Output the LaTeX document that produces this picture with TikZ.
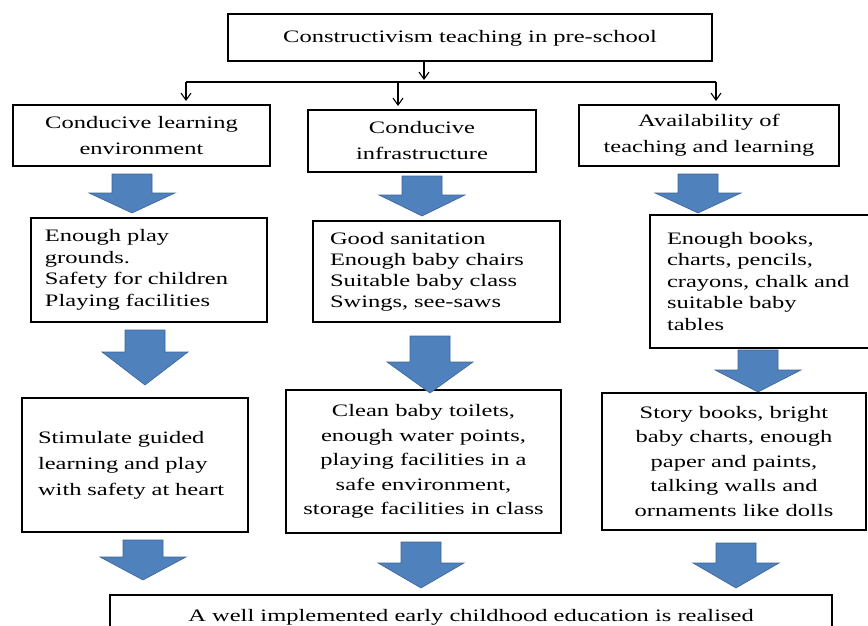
\documentclass[tikz,border=0pt]{standalone}
\usepackage{fontspec}
\setmainfont{Liberation Serif}[FakeStretch=1.4]
\usetikzlibrary{arrows.meta,calc}
\definecolor{arrfill}{RGB}{79,129,189}
\definecolor{arrline}{RGB}{60,100,150}
\newcommand\fatarrow[4]{%
  \filldraw[blockarrow] ({#1-20},#2) -- ({#1+20},#2) -- ({#1+20},#3) -- ({#1+43},#3)
    -- (#1,#4) -- ({#1-43},#3) -- ({#1-20},#3) -- cycle;}
\begin{document}
\begin{tikzpicture}[x=1pt,y=-1pt,
  box/.style={draw=black, line width=2pt, inner sep=0pt, align=center,
    font=\fontsize{17.5}{26}\selectfont},
  listbox/.style={box, align=left, font=\fontsize{17.5}{21.5}\selectfont},
  thinarr/.style={line width=1.1pt, -{Straight Barb[length=7pt,width=10pt]}},
  thinline/.style={line width=1.1pt},
  blockarrow/.style={fill=arrfill, draw=arrline, line width=0.6pt, line join=miter}]
\useasboundingbox (0,0) rectangle (868,626);

% top
\node[box, minimum width=484pt, minimum height=47pt] (top) at (470,38)
  {Constructivism teaching in pre-school};

% row 1
\node[box, minimum width=257pt, minimum height=61pt] (L1) at (141.5,135.5)
  {Conducive learning\\environment};
\node[box, minimum width=228pt, minimum height=62pt] (M1) at (422,141)
  {Conducive\\infrastructure};
\node[box, minimum width=260pt, minimum height=61pt] (R1) at (709,135.5)
  {Availability of\\teaching and learning};

% thin connectors
\coordinate (hub) at (424,82);
\coordinate (hl) at (186,82);
\coordinate (hm) at (398,82);
\coordinate (hr) at (716,82);
\draw[thinarr] (top.south -| hub) -- ($(hub)+(0,-2)$);
\draw[thinline] (hl) -- (hr);
\draw[thinarr, shorten >=3pt] (hl) -- (hl |- L1.north);
\draw[thinarr, shorten >=3pt] (hm) -- (hm |- M1.north);
\draw[thinarr, shorten >=3pt] (hr) -- (hr |- R1.north);

% row 2
\node[listbox, text width=208pt, inner xsep=14pt, minimum height=104pt] (L2) at (149,270)
  {Enough play\\grounds.\\Safety for children\\Playing facilities};
\node[listbox, text width=213pt, inner xsep=17pt, minimum height=101pt,
  font=\fontsize{17.5}{21}\selectfont] (M2) at (436.5,271.5)
  {Good sanitation\\Enough baby chairs\\Suitable baby class\\Swings, see-saws};
\node[listbox, text width=200pt, inner xsep=17pt, minimum height=133pt,
  anchor=west] (R2) at (649,281.5)
  {Enough books,\\charts, pencils,\\crayons, chalk and\\suitable baby\\tables};

% row 3
\node[box, align=left, text width=194pt, inner xsep=16pt, minimum height=134pt,
  font=\fontsize{17.5}{26}\selectfont] (L3) at (135,465)
  {Stimulate guided\\learning and play\\with safety at heart};
\node[box, minimum width=275pt, minimum height=143pt,
  font=\fontsize{17.5}{24.5}\selectfont] (M3) at (423.5,461.5)
  {Clean baby toilets,\\enough water points,\\playing facilities in a\\safe environment,\\storage facilities in class};
\node[box, minimum width=264pt, minimum height=137pt,
  font=\fontsize{17.5}{24.5}\selectfont] (R3) at (734,461.5)
  {Story books, bright\\baby charts, enough\\paper and paints,\\talking walls and\\ornaments like dolls};

% bottom
\node[box, minimum width=722pt, minimum height=45pt] (bot) at (471,617.5)
  {A well implemented early childhood education is realised};

% block arrows row 1 -> row 2
\fatarrow{132}{174}{193}{213}
\fatarrow{422}{176}{195}{216}
\fatarrow{698}{174}{193}{213}
% row 2 -> row 3
\fatarrow{145}{330}{352}{385}
\fatarrow{430}{336}{362}{393}
\fatarrow{758}{350}{370}{392}
% row 3 -> bottom
\fatarrow{143}{540}{557}{580}
\fatarrow{421}{542}{563}{588}
\fatarrow{736}{543}{563}{588}
\end{tikzpicture}
\end{document}
